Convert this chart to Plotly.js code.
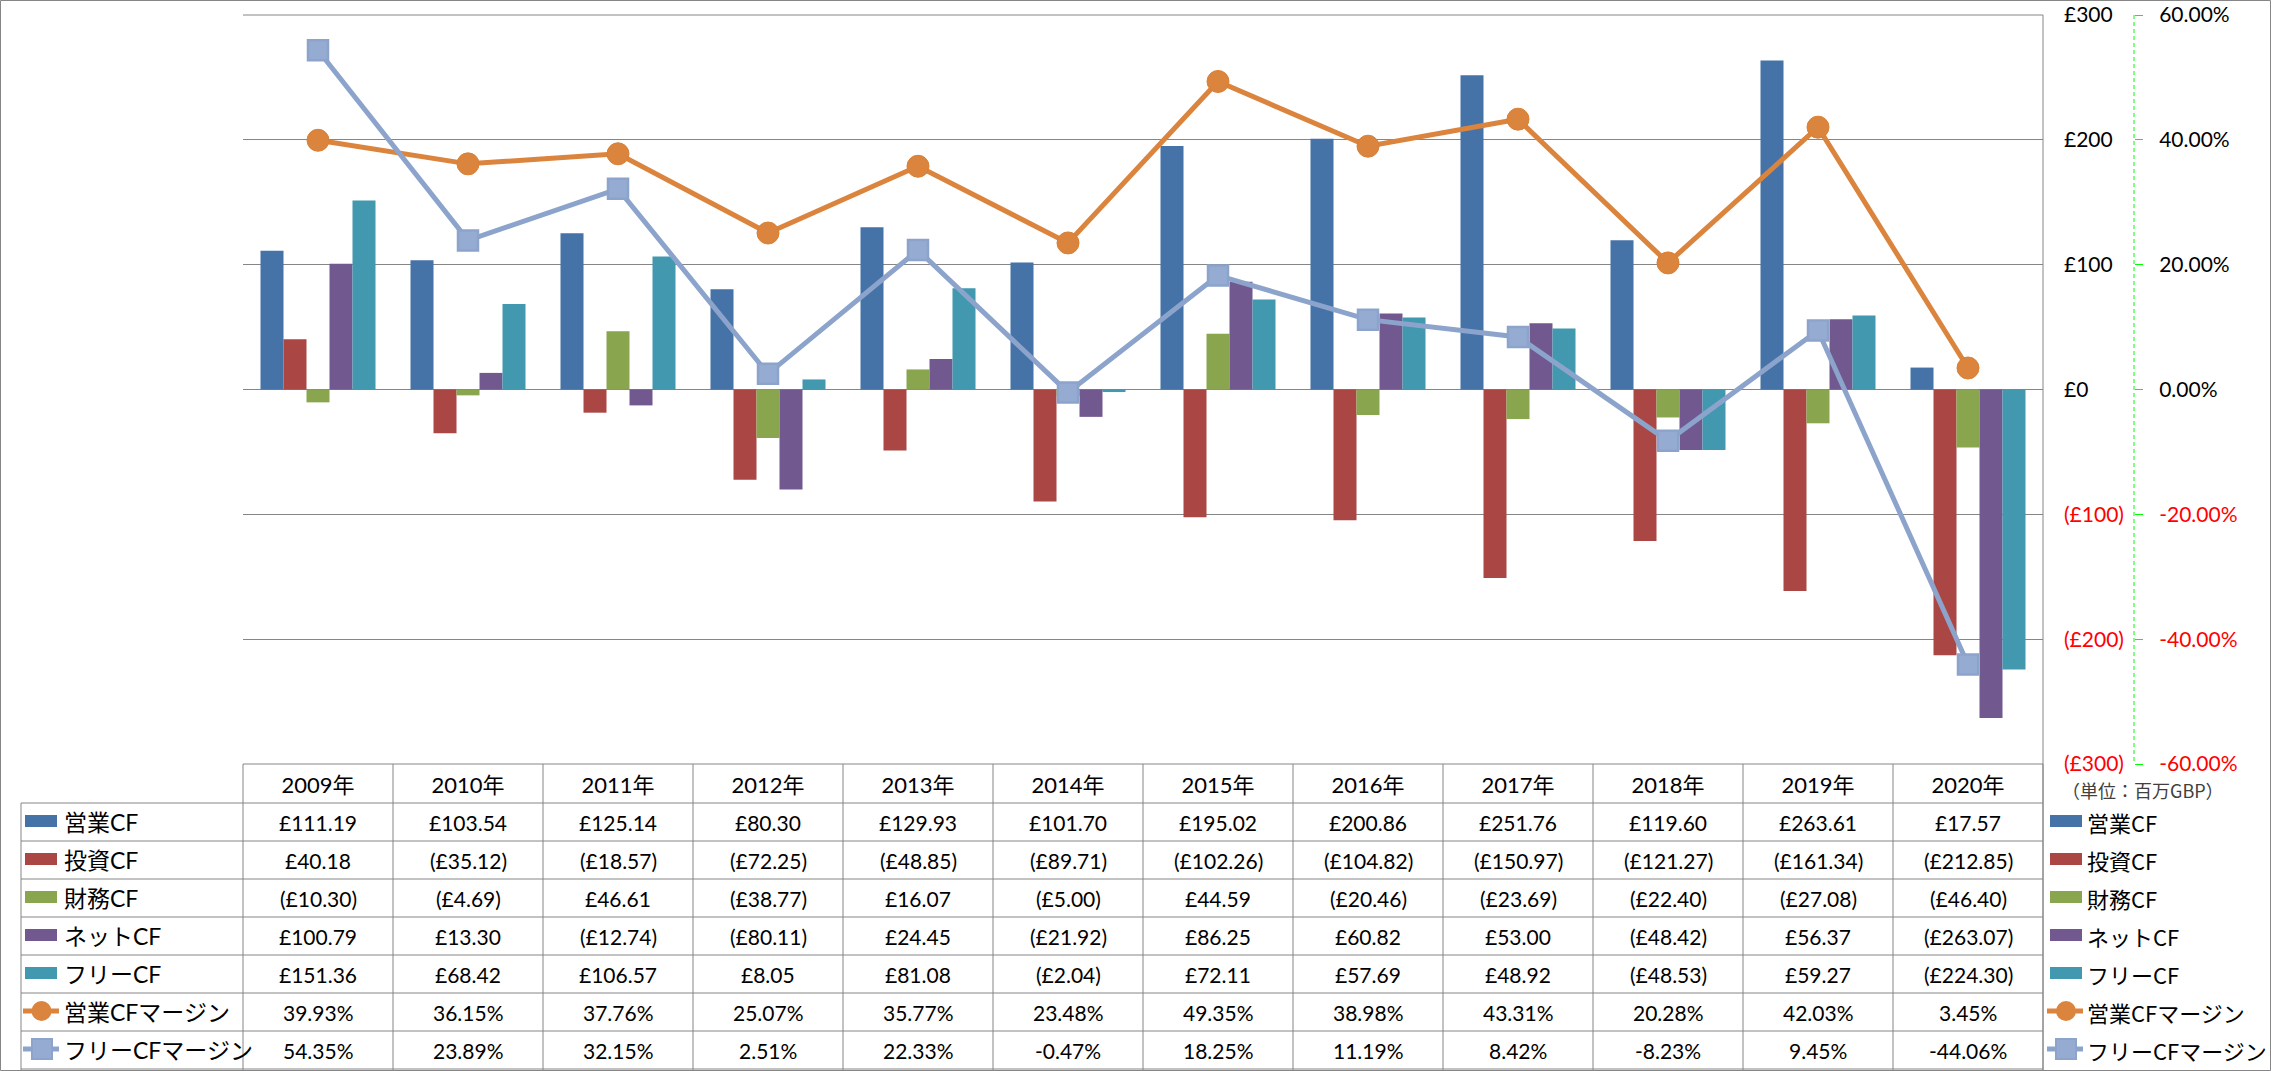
<!DOCTYPE html>
<html><head><meta charset="utf-8">
<script src="https://cdn.plot.ly/plotly-3.0.1.min.js"></script>
<style>html,body{margin:0;padding:0;background:#fff;} #chart{width:2271px;height:1071px;}</style>
</head><body><div id="chart"></div>
<script>
// ---------- data ----------
const years = ['2009年','2010年','2011年','2012年','2013年','2014年','2015年','2016年','2017年','2018年','2019年','2020年'];
const opCF   = [111.19, 103.54, 125.14, 80.30, 129.93, 101.70, 195.02, 200.86, 251.76, 119.60, 263.61, 17.57];
const invCF  = [40.18, -35.12, -18.57, -72.25, -48.85, -89.71, -102.26, -104.82, -150.97, -121.27, -161.34, -212.85];
const finCF  = [-10.30, -4.69, 46.61, -38.77, 16.07, -5.00, 44.59, -20.46, -23.69, -22.40, -27.08, -46.40];
const netCF  = [100.79, 13.30, -12.74, -80.11, 24.45, -21.92, 86.25, 60.82, 53.00, -48.42, 56.37, -263.07];
const freeCF = [151.36, 68.42, 106.57, 8.05, 81.08, -2.04, 72.11, 57.69, 48.92, -48.53, 59.27, -224.30];
const opMargin   = [39.93, 36.15, 37.76, 25.07, 35.77, 23.48, 49.35, 38.98, 43.31, 20.28, 42.03, 3.45];
const freeMargin = [54.35, 23.89, 32.15, 2.51, 22.33, -0.47, 18.25, 11.19, 8.42, -8.23, 9.45, -44.06];

const seriesNames = ['営業CF','投資CF','財務CF','ネットCF','フリーCF','営業CFマージン','フリーCFマージン'];
const yTickVals  = [-300, -200, -100, 0, 100, 200, 300];
const yTickText  = ['(£300)','(£200)','(£100)','£0','£100','£200','£300'];
const y2TickVals = [-60, -40, -20, 0, 20, 40, 60];
const y2TickText = ['-60.00%','-40.00%','-20.00%','0.00%','20.00%','40.00%','60.00%'];
const unitLabel = '（単位：百万GBP）';

// ---------- styles ----------
const COLORS = ['#4572A7','#AA4643','#89A54E','#71588F','#4198AF','#DB843D','#93A9CF'];
const BLUE_MARK_FILL = '#95ABD2', BLUE_MARK_LINE = '#8CA4CB';
const GRID = '#868686';
const LATIN = "Lato, 'Noto Sans CJK JP', sans-serif";
const CJK = "'Noto Sans CJK JP', sans-serif";

// geometry in pixels: plot area 243..2043, paper extends to the secondary axis line at 2134
const PL = 243, PR = 2043, AX2 = 2134, PT = 15, PB = 764;
const PW = AX2 - PL, H = PB - PT;
const px = x => (x - PL) / PW;
const py = y => (PB - y) / H;

// ---------- traces ----------
const barSeries = [opCF, invCF, finCF, netCF, freeCF];
const traces = barSeries.map((vals, i) => ({
  type: 'bar', x: years, y: vals, name: seriesNames[i],
  marker: {color: COLORS[i], line: {width: 0}}, yaxis: 'y', hoverinfo: 'skip'
}));
traces.push({
  type: 'scatter', mode: 'lines+markers', x: years, y: opMargin, name: seriesNames[5], yaxis: 'y2',
  line: {color: COLORS[5], width: 5},
  marker: {symbol: 'circle', size: 22, color: COLORS[5], line: {color: '#D98135', width: 1}}, hoverinfo: 'skip'
});
traces.push({
  type: 'scatter', mode: 'lines+markers', x: years, y: freeMargin, name: seriesNames[6], yaxis: 'y2',
  line: {color: BLUE_MARK_LINE, width: 5},
  marker: {symbol: 'square', size: 20, color: BLUE_MARK_FILL, line: {color: BLUE_MARK_LINE, width: 2.5}}, hoverinfo: 'skip'
});

// ---------- tick texts (negatives red) ----------
const redIfNeg = (v, t) => v < 0 ? '<span style="fill:#FF0000;color:#FF0000">' + t + '</span>' : t;
const yTT  = yTickVals.map((v, i) => redIfNeg(v, yTickText[i]));
const y2TT = y2TickVals.map((v, i) => redIfNeg(v, y2TickText[i]));

// ---------- shapes ----------
const shapes = [];
function line(x0, y0, x1, y1, color, w, dash) {
  shapes.push({type: 'line', xref: 'paper', yref: 'paper', x0: px(x0), y0: py(y0), x1: px(x1), y1: py(y1),
    line: {color: color, width: w || 1, dash: dash || 'solid'}, layer: 'above'});
}
function rect(x0, y0, x1, y1, fill, lineColor, lw) {
  shapes.push({type: 'rect', xref: 'paper', yref: 'paper', x0: px(x0), y0: py(y0), x1: px(x1), y1: py(y1),
    fillcolor: fill, line: {color: lineColor || fill, width: lw || 0}, layer: 'above'});
}
function circle(cx, cy, d, fill) {
  shapes.push({type: 'circle', xref: 'paper', yref: 'paper', x0: px(cx - d/2), y0: py(cy + d/2), x1: px(cx + d/2), y1: py(cy - d/2),
    fillcolor: fill, line: {color: fill, width: 0}, layer: 'above'});
}

// outer chart border
shapes.push({type: 'rect', xref: 'paper', yref: 'paper', x0: px(0.5), y0: py(1070.5), x1: px(2270.5), y1: py(0.5),
  line: {color: GRID, width: 1}, fillcolor: 'rgba(0,0,0,0)', layer: 'below'});
// plot top / bottom and right edge
line(PL, PT, PR, PT, GRID, 1);
line(PL, PB, PR, PB, GRID, 1);
line(PR, PT, PR, 1070, GRID, 1);
// secondary axis dashed line
line(AX2, PT, AX2, PB, '#00FF00', 1, '4px,3px');

// data table grid
const ROW_H = 38, ROW0 = 803;
const nRows = seriesNames.length;
for (let r = 0; r <= nRows; r++) {
  const y = ROW0 + r * ROW_H;
  line(21, y, PR, y, GRID, 1);
}
line(21, ROW0, 21, 1070, GRID, 1);
for (let k = 0; k <= years.length; k++) {
  const x = PL + k * ((PR - PL) / years.length);
  line(x, PB, x, 1070, GRID, 1);
}

// ---------- annotations ----------
const annotations = [];
const fmtMoney = v => v < 0 ? '(£' + Math.abs(v).toFixed(2) + ')' : '£' + v.toFixed(2);
const fmtPct = v => v.toFixed(2) + '%';
const tableRows = [
  barSeries[0].map(fmtMoney), barSeries[1].map(fmtMoney), barSeries[2].map(fmtMoney),
  barSeries[3].map(fmtMoney), barSeries[4].map(fmtMoney), opMargin.map(fmtPct), freeMargin.map(fmtPct)
];
tableRows.forEach((row, r) => {
  const cy = ROW0 + r * ROW_H + ROW_H / 2;
  row.forEach((t, j) => {
    annotations.push({xref: 'x', yref: 'paper', x: years[j], y: py(cy), text: t, showarrow: false,
      xanchor: 'center', yanchor: 'middle', font: {family: LATIN, size: 21, color: '#000'}});
  });
  // row header (left) and legend (right)
  annotations.push({xref: 'paper', yref: 'paper', x: px(62), y: py(cy), text: seriesNames[r], showarrow: false,
    xanchor: 'left', yanchor: 'middle', font: {family: LATIN, size: 23, color: '#000'}});
  annotations.push({xref: 'paper', yref: 'paper', x: px(2085), y: py(cy), text: seriesNames[r], showarrow: false,
    xanchor: 'left', yanchor: 'middle', font: {family: CJK, size: 22, color: '#000'}});
  // legend keys
  if (r < 5) {
    rect(25, cy - 7, 57, cy + 5, COLORS[r]);
    rect(2050, cy - 7, 2082, cy + 5, COLORS[r]);
  } else if (r === 5) {
    line(23, cy - 1, 59, cy - 1, COLORS[5], 5);
    circle(41.5, cy - 1, 20, COLORS[5]);
    line(2047, cy - 1, 2083, cy - 1, COLORS[5], 5);
    circle(2066, cy - 1, 20, COLORS[5]);
  } else {
    line(23, cy - 1, 59, cy - 1, BLUE_MARK_LINE, 5);
    rect(32, cy - 11, 52, cy + 9, BLUE_MARK_FILL, BLUE_MARK_LINE, 2);
    line(2047, cy - 1, 2083, cy - 1, BLUE_MARK_LINE, 5);
    rect(2056, cy - 11, 2076, cy + 9, BLUE_MARK_FILL, BLUE_MARK_LINE, 2);
  }
});
annotations.push({xref: 'paper', yref: 'paper', x: px(2060), y: py(790), text: unitLabel, showarrow: false,
  xanchor: 'left', yanchor: 'middle', font: {family: CJK, size: 18, color: '#404040'}});

// ---------- layout ----------
const layout = {
  width: 2271, height: 1071,
  margin: {l: PL, r: 2271 - AX2, t: PT, b: 1071 - PB, pad: 0},
  paper_bgcolor: '#fff', plot_bgcolor: '#fff',
  font: {family: LATIN, color: '#000', size: 21},
  showlegend: false,
  barmode: 'group', bargap: 0.2333, bargroupgap: 0,
  hovermode: false,
  xaxis: {type: 'category', domain: [0, (PR - PL) / PW], range: [-0.5, years.length - 0.5],
    showgrid: false, zeroline: false, showline: false,
    ticks: '', tickfont: {family: LATIN, size: 22, color: '#000'}, ticklabelstandoff: 6, fixedrange: true},
  yaxis: {range: [-300, 300], side: 'right', anchor: 'x', tickvals: yTickVals, ticktext: yTT, showgrid: true, gridcolor: GRID,
    gridwidth: 1, zeroline: true, zerolinecolor: GRID, zerolinewidth: 1, showline: false, ticks: '',
    ticklabelstandoff: 20, tickfont: {family: LATIN, size: 21, color: '#000'}, fixedrange: true},
  yaxis2: {range: [-60, 60], overlaying: 'y', side: 'right', anchor: 'free', position: 1,
    tickvals: y2TickVals, ticktext: y2TT, showgrid: false, zeroline: false, showline: false,
    ticks: 'outside', ticklen: 8, tickcolor: '#00FF00', tickwidth: 1, ticklabelstandoff: 12,
    tickfont: {family: LATIN, size: 21, color: '#000'}, fixedrange: true},
  shapes: shapes,
  annotations: annotations
};

Plotly.newPlot('chart', traces, layout, {staticPlot: true, displayModeBar: false});
</script></body></html>
